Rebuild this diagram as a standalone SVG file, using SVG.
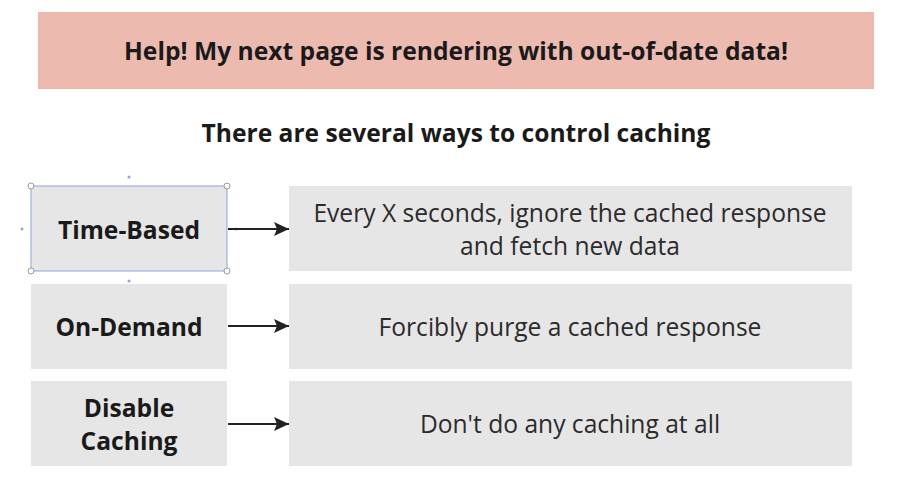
<svg xmlns="http://www.w3.org/2000/svg" width="899" height="494" viewBox="0 0 899 494">
<style>
.box{fill:#e6e6e6}
.lbl{font-family:"Open Sans","Liberation Sans",sans-serif;font-weight:bold;font-size:24.6px;fill:#1a1a1a;text-anchor:middle;dominant-baseline:central}
.txt{font-family:"Open Sans","Liberation Sans",sans-serif;font-size:24.6px;fill:#2b2b2b;text-anchor:middle;dominant-baseline:central}
.conn{stroke:#222;stroke-width:2;fill:none}
.h{fill:#fff;stroke:#999;stroke-width:1}
.d{fill:#8fa3e0}
</style>
<defs>
<marker id="ah" viewBox="0 0 15 14" refX="15" refY="7" markerWidth="15" markerHeight="14" markerUnits="userSpaceOnUse" orient="auto">
<path d="M0,0 L15,7 L0,14 L3,7 z" fill="#222"/>
</marker>
</defs>
<rect width="899" height="494" fill="#fff"/>
<g id="title">
<rect x="38" y="12" width="836" height="77" fill="#edbab0"/>
<text class="lbl" x="456" y="50" textLength="664" lengthAdjust="spacingAndGlyphs">Help! My next page is rendering with out-of-date data!</text>
</g>
<g id="subtitle">
<text class="lbl" x="456" y="132">There are several ways to control caching</text>
</g>
<g id="time-based">
<rect class="box" x="31" y="186" width="196" height="85"/>
<text class="lbl" x="129" y="229">Time-Based</text>
</g>
<g id="selection">
<rect x="31" y="186" width="196" height="85" fill="none" stroke="#8fa3e0" stroke-width="1"/>
<circle class="h" cx="31" cy="186" r="3"/>
<circle class="h" cx="227" cy="186" r="3"/>
<circle class="h" cx="31" cy="271" r="3"/>
<circle class="h" cx="227" cy="271" r="3"/>
<circle class="d" cx="129" cy="177" r="1.5"/>
<circle class="d" cx="129" cy="281" r="1.5"/>
<circle class="d" cx="22" cy="229" r="1.5"/>
<circle class="d" cx="236" cy="229" r="1.5"/>
</g>
<g id="time-based-desc">
<rect class="box" x="289" y="186" width="563" height="85"/>
<text class="txt" x="570" y="212">Every X seconds, ignore the cached response</text>
<text class="txt" x="570" y="245">and fetch new data</text>
</g>
<g id="on-demand">
<rect class="box" x="31" y="284" width="196" height="85"/>
<text class="lbl" x="129" y="326">On-Demand</text>
</g>
<g id="on-demand-desc">
<rect class="box" x="289" y="284" width="563" height="85"/>
<text class="txt" x="570" y="326">Forcibly purge a cached response</text>
</g>
<g id="disable">
<rect class="box" x="31" y="381" width="196" height="85"/>
<text class="lbl" x="129" y="407">Disable</text>
<text class="lbl" x="129" y="440">Caching</text>
</g>
<g id="disable-desc">
<rect class="box" x="289" y="381" width="563" height="85"/>
<text class="txt" x="570" y="423">Don't do any caching at all</text>
</g>
<g id="connectors">
<line class="conn" x1="228" y1="229" x2="289" y2="229" marker-end="url(#ah)"/>
<line class="conn" x1="228" y1="326" x2="289" y2="326" marker-end="url(#ah)"/>
<line class="conn" x1="228" y1="424" x2="289" y2="424" marker-end="url(#ah)"/>
</g>
</svg>
